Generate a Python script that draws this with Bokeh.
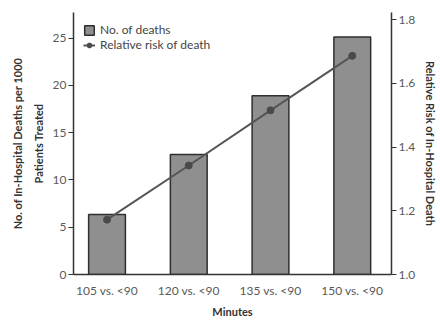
from bokeh.plotting import figure
from bokeh.models import Range1d, LinearAxis, FixedTicker, Legend, LegendItem
from bokeh.embed import file_html
from bokeh.resources import INLINE

categories = ["105 vs. <90", "120 vs. <90", "135 vs. <90", "150 vs. <90"]
deaths = [6.35, 12.7, 18.9, 25.1]
relative_risk = [1.172, 1.342, 1.515, 1.686]
left_ticks = [0, 5, 10, 15, 20, 25]
right_ticks = [1.0, 1.2, 1.4, 1.6, 1.8]
right_tick_labels = ["1.0", "1.2", "1.4", "1.6", "1.8"]

xs = list(range(len(categories)))
FONT = "Lato"

p = figure(width=440, height=320, output_backend="svg", toolbar_location=None,
           x_range=Range1d(-0.41, 3.48), y_range=Range1d(0, 27.7),
           min_border_left=73, min_border_right=48, min_border_top=12, min_border_bottom=42)
p.extra_y_ranges = {"rr": Range1d(1.0, 1.822)}
p.outline_line_color = None
p.xgrid.visible = False
p.ygrid.visible = False
p.background_fill_color = "white"

bars = p.vbar(x=xs, top=deaths, width=0.45, bottom=0, fill_color="#8f8f8f",
              line_color="#2e2e2e", line_width=1.5)
ln = p.line(x=xs, y=relative_risk, y_range_name="rr", line_color="#555555", line_width=2)
pts = p.scatter(x=xs, y=relative_risk, y_range_name="rr", size=7,
                fill_color="#4a4a4a", line_color="#4a4a4a")

# x axis
xa = p.xaxis[0]
xa.ticker = FixedTicker(ticks=xs)
xa.major_label_overrides = {i: c for i, c in enumerate(categories)}
xa.major_tick_line_color = None
xa.major_tick_in = 0
xa.major_tick_out = 0
xa.minor_tick_line_color = None
xa.axis_label = "Minutes"
xa.axis_line_color = "#333333"
xa.axis_line_width = 1.5
xa.major_label_standoff = 8
xa.axis_label_standoff = 4

# left axis
ya = p.yaxis[0]
ya.ticker = FixedTicker(ticks=left_ticks)
ya.axis_label = "No. of In-Hospital Deaths per 1000\nPatients Treated"
ya.minor_tick_line_color = None
ya.major_tick_in = 0
ya.major_tick_out = 5
ya.axis_line_color = "#333333"
ya.axis_line_width = 1.5
ya.major_tick_line_color = "#333333"
ya.major_label_standoff = 2
ya.axis_label_standoff = 5
ya.axis_label_text_line_height = 1.6

# right axis
ra = LinearAxis(y_range_name="rr", ticker=FixedTicker(ticks=right_ticks),
                axis_label="Relative Risk of In-Hospital Death")
ra.major_label_overrides = {t: l for t, l in zip(right_ticks, right_tick_labels)}
ra.minor_tick_line_color = None
ra.major_tick_in = 0
ra.major_tick_out = 5
ra.axis_line_color = "#333333"
ra.axis_line_width = 1.5
ra.major_tick_line_color = "#333333"
ra.major_label_standoff = 2
ra.axis_label_standoff = 6
p.add_layout(ra, "right")

for ax in [xa, ya, ra]:
    ax.major_label_text_font = FONT
    ax.major_label_text_font_size = "12px"
    ax.major_label_text_color = "#5a5a5a"
    ax.axis_label_text_font = FONT
    ax.axis_label_text_font_size = "11px"
    ax.axis_label_text_font_style = "bold"
    ax.axis_label_text_color = "#333333"

legend = Legend(items=[LegendItem(label="No. of deaths", renderers=[bars]),
                       LegendItem(label="Relative risk of death", renderers=[ln, pts])],
                location="top_left", margin=10, padding=10, spacing=0,
                glyph_width=12, glyph_height=12, label_height=12, label_standoff=5,
                border_line_color=None, background_fill_alpha=0,
                label_text_font=FONT, label_text_font_size="12px",
                label_text_color="#444444")
p.add_layout(legend, "center")

open("out.html", "w").write(file_html(p, INLINE))
